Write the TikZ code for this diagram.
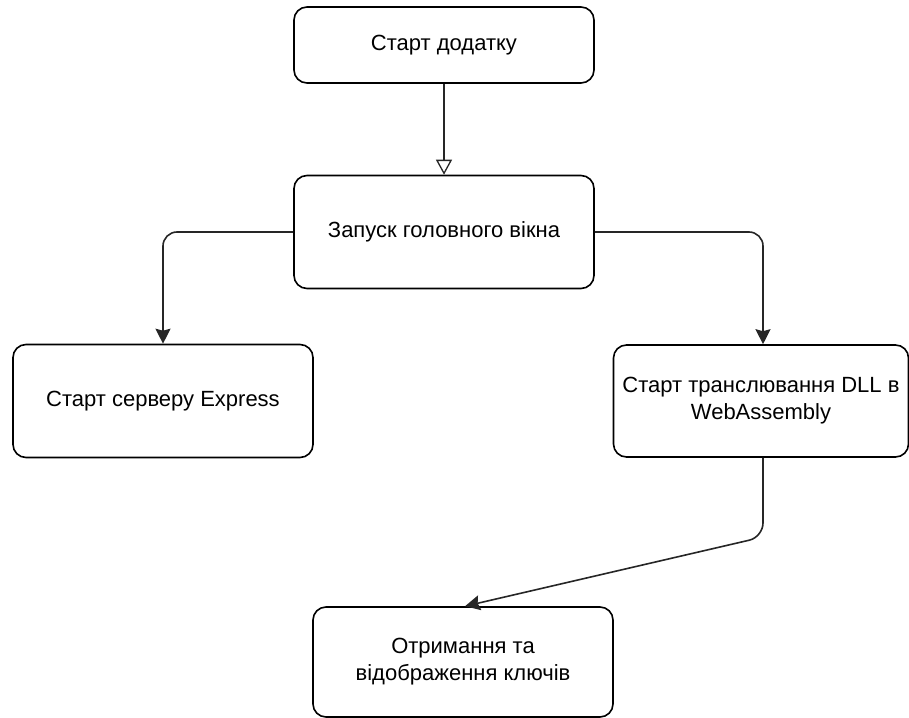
\documentclass[tikz,border=0pt]{standalone}
\usepackage{fontspec}
\setmainfont{Liberation Sans}
\usetikzlibrary{arrows.meta}
\begin{document}
\begin{tikzpicture}[x=1pt,y=-1pt,
  box/.style={draw=black, line width=1.6pt, rounded corners=13pt, align=center,
    font=\fontsize{22}{27}\selectfont, inner sep=0pt},
  conn/.style={draw=black!85, line width=1.6pt, rounded corners=14pt},
  openhead/.style={-{Triangle[open, length=15pt, width=16pt, line width=1.3pt]}},
  fillhead/.style={-{Stealth[length=15pt, width=15pt, inset=2pt]}}]
\useasboundingbox (0,0) rectangle (909,717);
\node[box, minimum width=300pt, minimum height=76pt] (b1) at (444,45) {Старт додатку};
\node[box, minimum width=300pt, minimum height=113pt] (b2) at (444,232) {Запуск головного вікна};
\node[box, minimum width=300pt, minimum height=113pt] (b3) at (163,401) {Старт серверу Express};
\node[box, minimum width=295pt, minimum height=112pt] (b4) at (761,401) {Старт транслювання DLL в\\WebAssembly};
\node[box, minimum width=300pt, minimum height=110pt] (b5) at (463,662) {Отримання та\\відображення ключів};
\coordinate (bend) at (763,537);
\draw[conn, openhead] (b1.south) -- (b2.north);
\draw[conn, fillhead] (b2.west) -| (b3.north);
\draw[conn, fillhead] (b2.east) -| ([xshift=2pt]b4.north);
\draw[conn, fillhead] ([xshift=2pt]b4.south) -- (bend) -- ([xshift=2pt]b5.north);
\end{tikzpicture}
\end{document}
